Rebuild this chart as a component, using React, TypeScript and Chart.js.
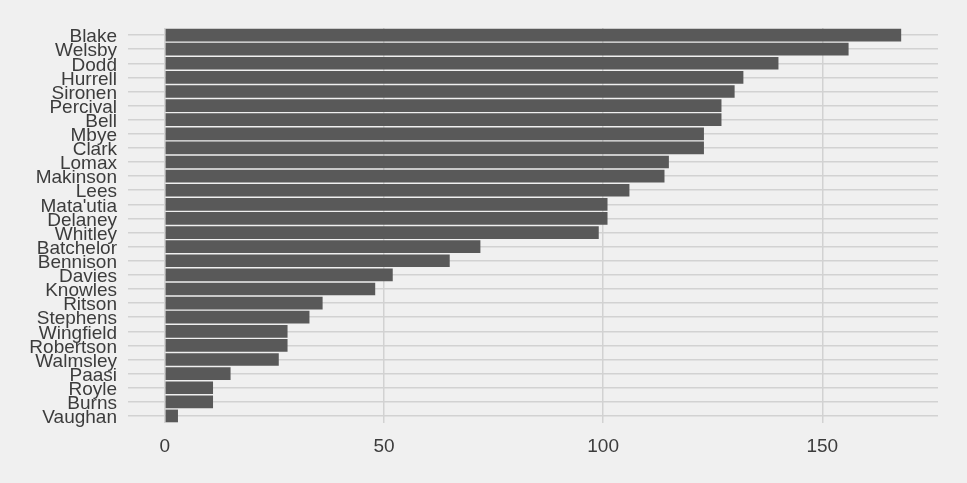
import { useEffect, useRef } from 'react';
import { Chart, registerables } from 'chart.js';

Chart.register(...registerables);

const players = [
  'Blake', 'Welsby', 'Dodd', 'Hurrell', 'Sironen', 'Percival', 'Bell', 'Mbye', 'Clark', 'Lomax',
  'Makinson', 'Lees', "Mata'utia", 'Delaney', 'Whitley', 'Batchelor', 'Bennison', 'Davies',
  'Knowles', 'Ritson', 'Stephens', 'Wingfield', 'Robertson', 'Walmsley', 'Paasi', 'Royle',
  'Burns', 'Vaughan',
];

const values = [
  168, 156, 140, 132, 130, 127, 127, 123, 123, 115,
  114, 106, 101, 101, 99, 72, 65, 52,
  48, 36, 33, 28, 28, 26, 15, 11,
  11, 3,
];

const xTicks = [0, 50, 100, 150];

const BG = '#F0F0F0';
const GRID = '#D2D2D2';
const TEXT = '#3C3C3C';
const FONT = '"Liberation Sans", Arial, sans-serif';

export default function App() {
  const canvasRef = useRef<HTMLCanvasElement>(null);

  useEffect(() => {
    if (!canvasRef.current) return;
    const maxV = Math.max(...values);
    const pad = maxV * 0.05;

    const chart = new Chart(canvasRef.current, {
      type: 'bar',
      data: {
        labels: players,
        datasets: [{
          data: values,
          backgroundColor: '#595959',
          borderWidth: 0,
          barPercentage: 0.9,
          categoryPercentage: 1.0,
        }],
      },
      options: {
        indexAxis: 'y',
        animation: false,
        responsive: true,
        maintainAspectRatio: false,
        layout: { padding: { top: 28, right: 29, bottom: 0, left: 0 } },
        plugins: { legend: { display: false }, tooltip: { enabled: false } },
        scales: {
          x: {
            type: 'linear',
            min: -pad,
            max: maxV + pad,
            afterBuildTicks: (scale: any) => {
              scale.ticks = xTicks.map((v) => ({ value: v }));
            },
            afterFit: (scale: any) => { scale.height = 60; },
            grid: { color: GRID, lineWidth: 1.5, drawTicks: false },
            border: { display: false },
            ticks: {
              color: TEXT,
              padding: 12,
              font: { family: FONT, size: 19 },
              maxRotation: 0,
            },
          },
          y: {
            type: 'category',
            offset: true,
            afterFit: (scale: any) => { scale.width = 128; },
            grid: { color: GRID, lineWidth: 1.5, drawTicks: false, offset: false },
            border: { display: false },
            ticks: {
              color: TEXT,
              padding: 11,
              labelOffset: 2,
              autoSkip: false,
              font: { family: FONT, size: 19 },
            },
          },
        },
      },
    });

    return () => chart.destroy();
  }, []);

  return (
    <div style={{ position: 'fixed', left: 0, top: 0, width: 967, height: 483, background: BG }}>
      <canvas ref={canvasRef}></canvas>
    </div>
  );
}
